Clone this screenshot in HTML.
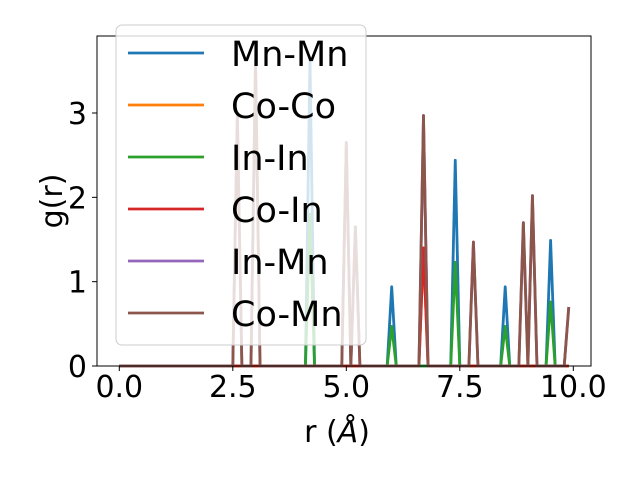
<!DOCTYPE html>
<html><head><meta charset="utf-8"><style>
html,body{margin:0;padding:0;background:#fff;}
svg{display:block;font-family:"DejaVu Sans","Liberation Sans",sans-serif;}
</style></head><body>
<svg id="chart" width="640" height="480" viewBox="0 0 640 480" xmlns="http://www.w3.org/2000/svg">
<rect width="640" height="480" fill="#fff"/>
<g id="lines"></g>
<rect x="97" y="36" width="494" height="330" fill="none" stroke="#000" stroke-width="1"/>
<g id="xticks"></g>
<g id="yticks"></g>
<text x="337" y="442" font-size="30" text-anchor="middle">r (<tspan font-style="italic">Å</tspan>)</text>
<text transform="translate(62,201) rotate(-90)" font-size="30" text-anchor="middle">g(r)</text>
<g id="legend"></g>
</svg>
<script>
const seriesNames = ["Mn-Mn","Co-Co","In-In","Co-In","In-Mn","Co-Mn"];
const seriesColors = ["#1f77b4","#ff7f0e","#2ca02c","#d62728","#9467bd","#8c564b"];
const xTicks = [0.0, 2.5, 5.0, 7.5, 10.0];
const xTickLabels = ["0.0","2.5","5.0","7.5","10.0"];
const yTicks = [0,1,2,3];
const yTickLabels = ["0","1","2","3"];
const rStepCount = 100; // r = 0.0 .. 9.9 step 0.1
// peak positions (r) and heights per series
const mnMnR = [4.2, 6.0, 7.4, 8.5, 9.5];
const mnMnG = [3.63, 0.94, 2.44, 0.94, 1.49];
const coCoR = [6.7];
const coCoG = [1.4];
const inInR = [4.2, 6.0, 7.4, 8.5, 9.5];
const inInG = [1.8, 0.47, 1.23, 0.47, 0.76];
const coInR = [6.7];
const coInG = [1.4];
const inMnR = [2.6, 3.0, 5.0, 5.2, 6.7, 7.8, 8.9, 9.1, 9.9];
const inMnG = [2.98, 3.63, 2.65, 1.65, 2.97, 1.47, 1.70, 2.02, 0.70];
const coMnR = [2.6, 3.0, 5.0, 5.2, 6.7, 7.8, 8.9, 9.1, 9.9];
const coMnG = [2.98, 3.63, 2.65, 1.65, 2.97, 1.47, 1.70, 2.02, 0.70];
const peakR = [mnMnR, coCoR, inInR, coInR, inMnR, coMnR];
const peakG = [mnMnG, coCoG, inInG, coInG, inMnG, coMnG];

const NS = "http://www.w3.org/2000/svg";
const xs = r => 119.3 + r * 45.4;
const ys = g => 366 - g * 84.33;
function mk(tag, attrs, parent){const e=document.createElementNS(NS,tag);for(const k in attrs)e.setAttribute(k,attrs[k]);parent.appendChild(e);return e;}

const linesG = document.getElementById("lines");
for (let s=0; s<seriesNames.length; s++){
  const vals = new Array(rStepCount).fill(0);
  peakR[s].forEach((r,i)=>{ vals[Math.round(r*10)] = peakG[s][i]; });
  const pts = vals.map((v,i)=> xs(i/10).toFixed(2)+","+ys(v).toFixed(2)).join(" ");
  const pl = mk("polyline",{points:pts,fill:"none",stroke:seriesColors[s],"stroke-width":2.8,"stroke-linejoin":"round"},linesG);
  
  
}
const xg = document.getElementById("xticks");
xTicks.forEach((t,i)=>{
  const l = mk("line",{x1:xs(t),x2:xs(t),y1:366,y2:371,stroke:"#000","stroke-width":1},xg);
  
  
  const tx = mk("text",{x:xs(t),y:397,"font-size":30,"text-anchor":"middle"},xg);
  tx.textContent = xTickLabels[i];
  
  
});
const yg = document.getElementById("yticks");
yTicks.forEach((t,i)=>{
  const l = mk("line",{x1:92,x2:97,y1:ys(t),y2:ys(t),stroke:"#000","stroke-width":1},yg);
  
  
  const tx = mk("text",{x:87,y:ys(t)+11,"font-size":30,"text-anchor":"end"},yg);
  tx.textContent = yTickLabels[i];
  
  
});
const lg = document.getElementById("legend");
const box = mk("rect",{x:116,y:25,width:250,height:320,rx:6,fill:"#fff","fill-opacity":0.8,stroke:"#ccc","stroke-width":1},lg);


seriesNames.forEach((n,i)=>{
  const y = 53 + i*52;
  const g = mk("g",{},lg);
  
  
  mk("line",{x1:128,x2:204,y1:y,y2:y,stroke:seriesColors[i],"stroke-width":2.8},g);
  const tx = mk("text",{x:231,y:y+13,"font-size":35},g);
  tx.textContent = n;
});
</script>
</body></html>
